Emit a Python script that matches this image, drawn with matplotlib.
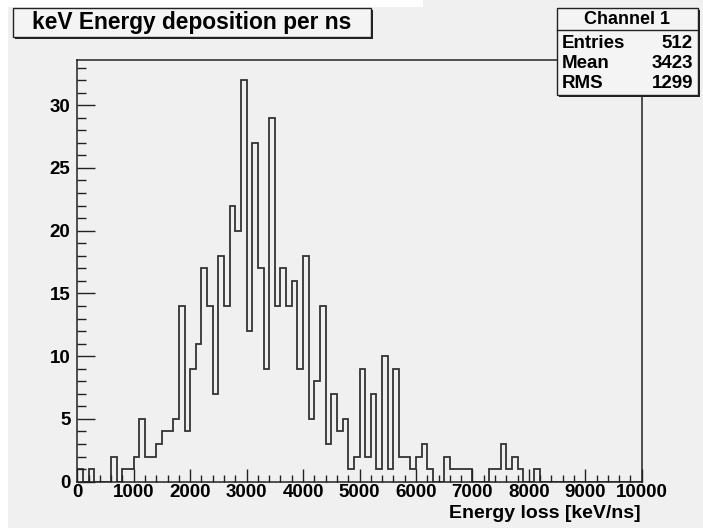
import numpy as np
import matplotlib
matplotlib.use("Agg")
import matplotlib.pyplot as plt
from matplotlib.patches import Rectangle
from matplotlib.lines import Line2D
from matplotlib.ticker import MultipleLocator

# ---- data (counts per 100 keV/ns bin, 0..10000) ----
bin_lo = 0
bin_hi = 10000
n_bins = 100
counts = [
    1, 0, 1, 0, 0, 0, 2, 0, 1, 1,
    2, 5, 2, 2, 3, 4, 4, 5, 14, 4,
    9, 11, 17, 14, 7, 18, 14, 22, 20, 32,
    12, 27, 17, 9, 29, 14, 17, 14, 16, 9,
    18, 5, 8, 14, 3, 7, 4, 5, 1, 2,
    9, 2, 7, 1, 10, 1, 9, 2, 2, 1,
    2, 3, 1, 0, 0, 2, 1, 1, 1, 1,
    0, 0, 0, 1, 1, 3, 1, 2, 1, 0,
    0, 1, 0, 0, 0, 0, 0, 0, 0, 0,
    0, 0, 0, 0, 0, 0, 0, 0, 0, 0,
]
title = "keV Energy deposition per ns"
xlabel = "Energy loss [keV/ns]"
stats_name = "Channel 1"
stats_rows = [("Entries", "512"), ("Mean", "3423"), ("RMS", "1299")]

W, H = 703, 528
FONT = ["Liberation Sans", "DejaVu Sans"]
BG = "#f0f0f0"
BOXBG = "#f4f4f4"
LINE = "#222222"

fig = plt.figure(figsize=(W / 100, H / 100), dpi=100, facecolor=BG)

def fx(px):
    return px / W

def fy(py):
    return 1 - py / H

# white screenshot margins
fig.patches.append(Rectangle((0, fy(7)), fx(423), 7 / H, transform=fig.transFigure,
                             facecolor="white", edgecolor="none", zorder=0))
fig.patches.append(Rectangle((0, 0), fx(8), 1, transform=fig.transFigure,
                             facecolor="white", edgecolor="none", zorder=0))

left, right, top, bottom = 77.3, 641.7, 60.0, 481.7
ax = fig.add_axes([fx(left), fy(bottom), fx(right - left), (bottom - top) / H])
ax.set_facecolor(BG)

edges = np.linspace(bin_lo, bin_hi, n_bins + 1)
ax.stairs(counts, edges, color="#333333", linewidth=1.3)

ax.set_xlim(bin_lo, bin_hi)
ax.set_ylim(0, max(counts) * 1.05)

ax.xaxis.set_major_locator(MultipleLocator(1000))
ax.xaxis.set_minor_locator(MultipleLocator(200))
ax.yaxis.set_major_locator(MultipleLocator(5))
ax.yaxis.set_minor_locator(MultipleLocator(1))

TL = 13.5
ax.tick_params(axis="x", which="major", direction="in", length=9.4, width=1.0,
               color=LINE, pad=2, labelsize=TL)
ax.tick_params(axis="x", which="minor", direction="in", length=4.7, width=1.0, color=LINE)
ax.tick_params(axis="y", which="major", direction="in", length=12.7, width=1.0,
               color=LINE, pad=5, labelsize=TL)
ax.tick_params(axis="y", which="minor", direction="in", length=6.3, width=1.0, color=LINE)
for lab in ax.get_xticklabels() + ax.get_yticklabels():
    lab.set_fontfamily(FONT)
    lab.set_fontweight("bold")
for s in ax.spines.values():
    s.set_color(LINE)
    s.set_linewidth(1.1)

fig.text(fx(641), fy(514), xlabel, ha="right", va="center", fontsize=14,
         fontweight="bold", family=FONT)

# title box
tx0, ty0, tx1, ty1 = 13, 8, 371, 37
fig.patches.append(Rectangle((fx(tx0 + 2), fy(ty1 + 2)), fx(tx1 - tx0), (ty1 - ty0) / H,
                             transform=fig.transFigure, facecolor="#222222",
                             edgecolor="none", zorder=5))
fig.patches.append(Rectangle((fx(tx0), fy(ty1)), fx(tx1 - tx0), (ty1 - ty0) / H,
                             transform=fig.transFigure, facecolor=BOXBG,
                             edgecolor="#222222", linewidth=1.0, zorder=6))
fig.text(fx(192), fy(22), title, ha="center", va="center", fontsize=16.4,
         fontweight="bold", family=FONT, zorder=7)

# stats box
sx0, sy0, sx1, sy1 = 557, 8, 698, 95
fig.patches.append(Rectangle((fx(sx0 + 2), fy(sy1 + 2)), fx(sx1 - sx0), (sy1 - sy0) / H,
                             transform=fig.transFigure, facecolor="#222222",
                             edgecolor="none", zorder=5))
fig.patches.append(Rectangle((fx(sx0), fy(sy1)), fx(sx1 - sx0), (sy1 - sy0) / H,
                             transform=fig.transFigure, facecolor=BOXBG,
                             edgecolor="#222222", linewidth=1.0, zorder=6))
fig.lines.append(Line2D([fx(sx0), fx(sx1)], [fy(30), fy(30)], transform=fig.transFigure,
                        color="#222222", linewidth=1.0, zorder=7))
fig.text(fx(627.5), fy(20), stats_name, ha="center", va="center",
         fontsize=13, fontweight="bold", family=FONT, zorder=8)
row_y = [43, 63, 84]
for (name, val), yy in zip(stats_rows, row_y):
    fig.text(fx(562), fy(yy), name, ha="left", va="center", fontsize=13.5,
             fontweight="bold", family=FONT, zorder=8)
    fig.text(fx(693), fy(yy), val, ha="right", va="center", fontsize=13.5,
             fontweight="bold", family=FONT, zorder=8)

fig.savefig("out.png", dpi=100, facecolor=fig.get_facecolor())
